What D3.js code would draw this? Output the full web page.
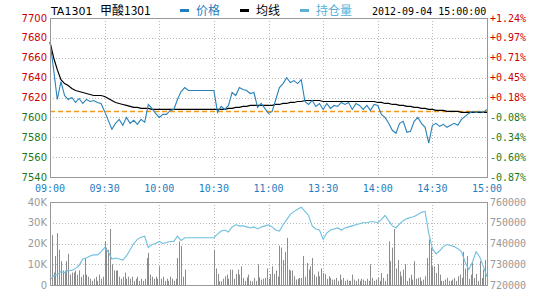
<!DOCTYPE html>
<html>
<head>
<meta charset="utf-8">
<script src="https://cdn.jsdelivr.net/npm/d3@7"></script>
<style>
  body { margin: 0; background: #fff; }
  svg { display: block; }
  .grid line { stroke: #b8b8b8; stroke-dasharray: 1,2; shape-rendering: crispEdges; }
  .frame { fill: none; stroke: #999; shape-rendering: crispEdges; }
</style>
</head>
<body>
<div id="chart"></div>
<script>
// ---- data ----
const timeLabels = ['09:00', '09:30', '10:00', '10:30', '11:00', '13:30', '14:00', '14:30', '15:00'];
const prevSettle = 7606;
const priceTicks = [7700, 7680, 7660, 7640, 7620, 7600, 7580, 7560, 7540];
const volTicks = [40000, 30000, 20000, 10000, 0];
const volTickLabels = ['40K', '30K', '20K', '10K', '0'];
const oiTicks = [760000, 750000, 740000, 730000, 720000];

// one value every 2 minutes (minute = 2 * index)
const price = [
  7676, 7648, 7618, 7636, 7622, 7618, 7620, 7615, 7619, 7614,
  7618, 7616, 7617, 7615, 7614, 7606, 7597, 7588, 7594, 7598,
  7592, 7600, 7594, 7597, 7593, 7598, 7595, 7613, 7609, 7604,
  7600, 7603, 7603, 7607, 7608, 7618, 7626, 7630, 7627, 7627,
  7627, 7627, 7627, 7627, 7627, 7627, 7605, 7611, 7608, 7612,
  7625, 7622, 7630, 7628, 7627, 7624, 7625, 7610, 7614, 7609,
  7604, 7606, 7618, 7630, 7634, 7640, 7635, 7637, 7634, 7638,
  7616, 7613, 7617, 7611, 7614, 7608, 7614, 7609, 7612, 7611,
  7615, 7613, 7615, 7608, 7614, 7612, 7608, 7612, 7607, 7613,
  7612, 7603, 7600, 7594, 7587, 7584, 7594, 7596, 7585, 7586,
  7596, 7600, 7594, 7590, 7574, 7592, 7594, 7591, 7593, 7590,
  7592, 7594, 7592, 7598, 7601, 7604, 7606, 7605, 7606, 7605, 7608
];
const avgPrice = [
  7676, 7660, 7648, 7638, 7634, 7632, 7629, 7627, 7626, 7625,
  7624, 7623, 7622, 7622, 7622, 7621, 7619, 7617, 7615, 7614,
  7613, 7612, 7611, 7610, 7610, 7609, 7609, 7609, 7608, 7608,
  7608, 7608, 7608, 7608, 7608, 7608, 7608, 7608, 7608, 7608,
  7608, 7608, 7608, 7608, 7608, 7608, 7608, 7608, 7608, 7609,
  7609, 7610, 7610, 7611, 7611, 7612, 7612, 7612, 7612, 7612,
  7612, 7612, 7613, 7613, 7614, 7614, 7615, 7615, 7616, 7616,
  7617, 7617, 7617, 7617, 7617, 7616, 7616, 7616, 7616, 7616,
  7616, 7616, 7616, 7616, 7616, 7616, 7616, 7616, 7616, 7616,
  7615, 7615, 7614, 7614, 7613, 7613, 7612, 7612, 7611, 7611,
  7610, 7610, 7609, 7609, 7608, 7608, 7607, 7607, 7607, 7606,
  7606, 7606, 7606, 7605, 7605, 7605, 7605, 7605, 7605, 7605, 7605
];
const openInterest = [
  722500, 724500, 725000, 726500, 726000, 727000, 727000, 728000, 729500, 732500,
  733000, 734000, 734500, 734500, 736000, 738000, 736000, 732500, 733000, 732500,
  732000, 734000, 737000, 740000, 742000, 743000, 743500, 738000, 739500, 740000,
  741000, 740000, 740500, 741000, 741000, 743500, 741500, 742800, 742800, 742800,
  742800, 742800, 742800, 742800, 742800, 742800, 744500, 746000, 746500, 745500,
  748000, 749000, 748500, 748500, 748000, 747500, 748000, 747000, 748000, 748500,
  749000, 748000, 746500, 746000, 749000, 751500, 754000, 755500, 756500, 757500,
  755500, 753500, 748500, 747000, 746500, 742000, 745000, 746500, 747000, 747500,
  746500, 747500, 748000, 748500, 749000, 749500, 750000, 750000, 750500, 750500,
  750000, 751500, 753500, 751000, 748500, 747500, 749500, 751000, 752000, 752500,
  753000, 754000, 755000, 755500, 745000, 737500, 735000, 736500, 738500, 739500,
  739000, 738500, 737500, 736000, 731000, 727500, 731000, 736000, 733500, 729000, 724000
];
// one value per minute, in thousands of lots
const volumeK = [
  3, 24, 6, 14, 25, 17, 11.5, 7, 7, 11.5,
  15, 5, 6, 6, 7, 5, 7, 4, 5, 13,
  5, 4, 3, 2, 3, 4, 2, 5, 3, 4,
  21, 18, 17, 27, 10, 7, 7, 7, 4, 3,
  4, 6, 3, 4, 3, 4, 2, 3, 4, 2,
  3, 2, 3, 13, 15.5, 5, 4, 3, 4, 3,
  9, 3, 4, 2, 3, 2, 4, 3, 2, 3,
  13, 21, 18.7, 4, 7.4, 0, 0, 0, 0, 0,
  0, 0, 0, 0, 0, 0, 0, 0, 0, 0,
  17, 8, 5.3, 1.8, 1.8, 3, 4.2, 5, 3, 7.4,
  7.4, 3, 5.3, 7.4, 5, 9, 3.4, 2, 3.7, 5,
  2, 1.8, 3.4, 2, 10, 3.7, 2.6, 3, 3.4, 8,
  3, 5.3, 9, 5.3, 7, 4, 19, 18, 12, 16,
  22.7, 7.4, 7, 7, 4.2, 2.6, 3, 3.4, 3.4, 14,
  4, 10.6, 7.4, 9, 13, 5, 4, 6.5, 4.2, 8,
  5.8, 5.3, 3, 4.2, 3.4, 2.6, 2.6, 3.4, 2, 5,
  2.6, 3.4, 2, 2.6, 2, 2, 5, 2.6, 2, 3,
  2, 3, 2.6, 2, 3, 2, 10, 3.4, 2, 2.6,
  3.4, 2, 5.8, 3.4, 2, 5.3, 21, 11.5, 18, 27,
  8, 12, 6.5, 4.2, 7.4, 10, 2, 3.4, 5, 2.6,
  11.5, 3, 3.4, 3.7, 2, 2.6, 4.2, 13, 22, 18,
  9, 9, 5.8, 10, 5, 2, 2, 2.6, 3.4, 2,
  2, 2.6, 3.4, 2, 4.2, 5, 3.4, 16, 8, 14,
  3, 5, 10.6, 3.4, 5.3, 2, 11.5, 3.4, 7.4, 12, 17
];

// ---- layout ----
const width = 540, height = 300;
const left = 50, right = 487;
const priceTop = 18, priceBottom = 177;
const volTop = 202, volBottom = 285;

const red = '#cc0000', green = '#1a7a1a', blue = '#1f7dc0';
const monoFont = '"DejaVu Sans Mono", monospace';
const sansFont = '"DejaVu Sans", sans-serif';
const cjkFont = '"Noto Sans CJK SC", sans-serif';

const svg = d3.select('#chart')
  .append('svg')
  .attr('width', width)
  .attr('height', height);

const x = d3.scaleLinear().domain([0, 240]).range([left, right]);
const yPrice = d3.scaleLinear().domain([7540, 7700]).range([priceBottom, priceTop]);
const yVol = d3.scaleLinear().domain([0, 40000]).range([volBottom, volTop]);
const yOi = d3.scaleLinear().domain([720000, 760000]).range([volBottom, volTop]);
const labelMinutes = timeLabels.map((d, i) => i * 30);

// ---- gridlines ----
function drawGrid(top, bottom, yScale, ticks) {
  const g = svg.append('g').attr('class', 'grid');
  g.selectAll('line.v')
    .data(labelMinutes.slice(1, -1))
    .enter().append('line')
    .attr('x1', d => Math.round(x(d)) + 0.5)
    .attr('x2', d => Math.round(x(d)) + 0.5)
    .attr('y1', top)
    .attr('y2', bottom);
  g.selectAll('line.h')
    .data(ticks.slice(1, -1))
    .enter().append('line')
    .attr('x1', left)
    .attr('x2', right)
    .attr('y1', d => Math.round(yScale(d)) + 0.5)
    .attr('y2', d => Math.round(yScale(d)) + 0.5);
}
drawGrid(priceTop, priceBottom, yPrice, priceTicks);
drawGrid(volTop, volBottom, yVol, volTicks);

// ---- price panel ----
// previous settlement, dashed
svg.append('line')
  .attr('x1', left).attr('x2', right)
  .attr('y1', Math.round(yPrice(prevSettle)) + 0.5)
  .attr('y2', Math.round(yPrice(prevSettle)) + 0.5)
  .attr('stroke', '#f39a1e')
  .attr('stroke-width', 1.3)
  .attr('stroke-dasharray', '5,3');

const lineAt = yScale => d3.line()
  .x((d, i) => x(i * 2))
  .y(d => yScale(d));

svg.append('path')
  .attr('d', lineAt(yPrice)(avgPrice))
  .attr('fill', 'none')
  .attr('stroke', '#000')
  .attr('stroke-width', 1.2);

svg.append('path')
  .attr('d', lineAt(yPrice)(price))
  .attr('fill', 'none')
  .attr('stroke', '#2a82b8')
  .attr('stroke-width', 1.1);

// ---- volume panel ----
svg.append('g')
  .selectAll('line')
  .data(volumeK)
  .enter().append('line')
  .attr('x1', (d, i) => Math.round(x(i)) + 0.5)
  .attr('x2', (d, i) => Math.round(x(i)) + 0.5)
  .attr('y1', volBottom)
  .attr('y2', d => yVol(d * 1000))
  .attr('stroke', '#8c8c8c')
  .attr('stroke-width', 1);

svg.append('path')
  .attr('d', lineAt(yOi)(openInterest))
  .attr('fill', 'none')
  .attr('stroke', '#6fbfdf')
  .attr('stroke-width', 1.1);

// frames
svg.append('rect').attr('class', 'frame')
  .attr('x', left + 0.5).attr('y', priceTop + 0.5)
  .attr('width', right - left).attr('height', priceBottom - priceTop);
svg.append('rect').attr('class', 'frame')
  .attr('x', left + 0.5).attr('y', volTop + 0.5)
  .attr('width', right - left).attr('height', volBottom - volTop);

// ---- axis labels ----
svg.append('g')
  .selectAll('text')
  .data(priceTicks)
  .enter().append('text')
  .attr('x', 47)
  .attr('y', d => yPrice(d))
  .attr('dy', '0.35em')
  .attr('text-anchor', 'end')
  .attr('font-family', sansFont)
  .attr('font-size', 10)
  .attr('fill', d => d > prevSettle ? red : green)
  .text(d => d);

svg.append('g')
  .selectAll('text')
  .data(priceTicks)
  .enter().append('text')
  .attr('x', 490)
  .attr('y', d => yPrice(d))
  .attr('dy', '0.35em')
  .attr('font-family', monoFont)
  .attr('font-size', 10)
  .attr('fill', d => d > prevSettle ? red : green)
  .text(d => {
    const pct = (d - prevSettle) / prevSettle * 100;
    return (pct >= 0 ? '+' : '-') + Math.abs(pct).toFixed(2) + '%';
  });

svg.append('g')
  .selectAll('text')
  .data(timeLabels)
  .enter().append('text')
  .attr('x', (d, i) => x(labelMinutes[i]))
  .attr('y', 192)
  .attr('text-anchor', 'middle')
  .attr('font-family', monoFont)
  .attr('font-size', 10)
  .attr('fill', blue)
  .text(d => d);

svg.append('g')
  .selectAll('text')
  .data(volTicks)
  .enter().append('text')
  .attr('x', 47)
  .attr('y', d => yVol(d))
  .attr('dy', '0.35em')
  .attr('text-anchor', 'end')
  .attr('font-family', sansFont)
  .attr('font-size', 10)
  .attr('fill', '#999')
  .text((d, i) => volTickLabels[i]);

svg.append('g')
  .selectAll('text')
  .data(oiTicks)
  .enter().append('text')
  .attr('x', 490)
  .attr('y', d => yOi(d))
  .attr('dy', '0.35em')
  .attr('font-family', monoFont)
  .attr('font-size', 10)
  .attr('fill', '#999')
  .text(d => d);

// ---- header / legend ----
svg.append('text')
  .attr('x', 51).attr('y', 15)
  .attr('font-family', sansFont).attr('font-size', 11)
  .text('TA1301');
svg.append('text')
  .attr('x', 100).attr('y', 15)
  .attr('font-family', cjkFont).attr('font-size', 12)
  .text('甲酸1301');

const legend = [
  { x: 180, color: '#1f7dc0', text: '价格' },
  { x: 240, color: '#000', text: '均线' },
  { x: 300, color: '#5ab0d8', text: '持仓量' }
];
const lg = svg.append('g').selectAll('g').data(legend).enter().append('g');
lg.append('rect')
  .attr('x', d => d.x).attr('y', 9)
  .attr('width', 9).attr('height', 3)
  .attr('fill', d => d.color);
lg.append('text')
  .attr('x', d => d.x + 16).attr('y', 15)
  .attr('font-family', cjkFont).attr('font-size', 12)
  .attr('fill', d => d.color)
  .text(d => d.text);

svg.append('text')
  .attr('x', 372).attr('y', 15)
  .attr('font-family', monoFont).attr('font-size', 10)
  .text('2012-09-04 15:00:00');
</script>
</body>
</html>
